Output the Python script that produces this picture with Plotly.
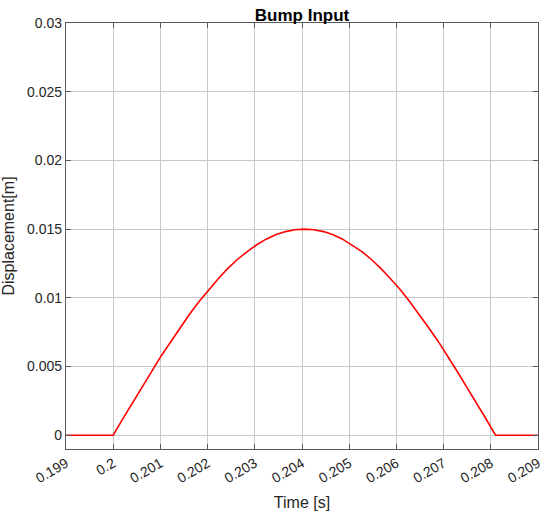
import plotly.graph_objects as go

# Time [s] and displacement [m]
time_s = [0.199, 0.2, 0.20020, 0.20041, 0.20061, 0.20081, 0.20101, 0.20122,
          0.20142, 0.20162, 0.20182, 0.20203, 0.20223, 0.20243, 0.20263,
          0.20284, 0.20304, 0.20324, 0.20344, 0.20365, 0.20385, 0.20405,
          0.20425, 0.20446, 0.20466, 0.20486, 0.20506, 0.20527, 0.20547,
          0.20567, 0.20587, 0.20608, 0.20628, 0.20648, 0.20668, 0.20689,
          0.20709, 0.20729, 0.20749, 0.20770, 0.20790, 0.2081, 0.209]
disp_m = [0.0, 0.0, 0.00118, 0.00235, 0.00350, 0.00464, 0.00574, 0.00681,
          0.00784, 0.00882, 0.00974, 0.01061, 0.01141, 0.01214, 0.01279,
          0.01337, 0.01386, 0.01427, 0.01459, 0.01482, 0.01495, 0.0150,
          0.01495, 0.01482, 0.01459, 0.01427, 0.01386, 0.01337, 0.01279,
          0.01214, 0.01141, 0.01061, 0.00974, 0.00882, 0.00784, 0.00681,
          0.00574, 0.00464, 0.00350, 0.00235, 0.00118, 0.0, 0.0]

x_ticks = [0.199, 0.2, 0.201, 0.202, 0.203, 0.204, 0.205, 0.206, 0.207, 0.208, 0.209]
x_tick_labels = ["0.199", "0.2", "0.201", "0.202", "0.203", "0.204", "0.205",
                 "0.206", "0.207", "0.208", "0.209"]
y_ticks = [0, 0.005, 0.01, 0.015, 0.02, 0.025, 0.03]
y_tick_labels = ["0", "0.005", "0.01", "0.015", "0.02", "0.025", "0.03"]

font = "Liberation Sans, Arial, sans-serif"

fig = go.Figure()
fig.add_trace(go.Scatter(x=time_s, y=disp_m, mode="lines",
                         line=dict(color="#ff0000", width=1.6), showlegend=False))

fig.update_layout(
    width=550, height=518,
    margin=dict(l=66, r=12, t=23, b=69, autoexpand=False),
    paper_bgcolor="white", plot_bgcolor="white",
    font=dict(family=font, size=14, color="#262626"),
    title=dict(text="<b>Bump Input</b>", x=0.5, xref="paper", xanchor="center",
               y=1, yref="paper", yanchor="bottom", pad=dict(b=2),
               font=dict(family=font, size=17, color="black")),
)
fig.update_xaxes(
    range=[0.1989999, 0.2090001], tickvals=x_ticks, ticktext=x_tick_labels, tickangle=-30,
    automargin=False,
    showgrid=True, gridcolor="#c8c8c8", gridwidth=1,
    showline=True, linecolor="#5a5a5a", linewidth=1.2, mirror="ticks",
    ticks="inside", ticklen=5, tickcolor="#5a5a5a",
    zeroline=False,
    tickfont=dict(family=font, size=14, color="#262626"),
    title=dict(text="Time [s]", standoff=11, font=dict(family=font, size=16, color="#262626")),
)
fig.update_yaxes(
    range=[-0.001, 0.03], tickvals=y_ticks, ticktext=y_tick_labels,
    automargin=False,
    showgrid=True, gridcolor="#c8c8c8", gridwidth=1,
    showline=True, linecolor="#5a5a5a", linewidth=1.2, mirror="ticks",
    ticks="inside", ticklen=5, tickcolor="#5a5a5a",
    zeroline=False,
    tickfont=dict(family=font, size=14, color="#262626"),
    title=dict(text="Displacement[m]", standoff=13, font=dict(family=font, size=16, color="#262626")),
)

fig.write_html("out.html", config={"displayModeBar": False},
               post_script="document.body.style.margin='0px';document.body.style.padding='0px';")
